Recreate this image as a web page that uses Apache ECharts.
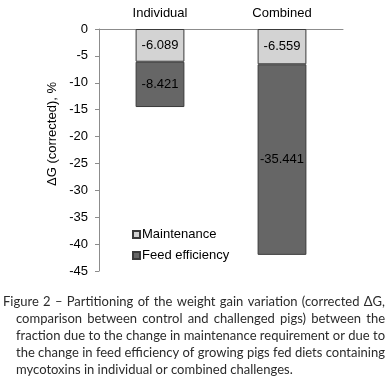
<!DOCTYPE html>
<html><head><meta charset="utf-8">
<script src="https://cdn.jsdelivr.net/npm/echarts@6/dist/echarts.min.js"></script>
<style>html,body{margin:0;padding:0;background:#fff}#c{width:390px;height:385px}</style>
</head><body><div id="c"></div>
<script>
const categories = ['Individual', 'Combined'];
const maintenance = [-6.089, -6.559];
const feedEfficiency = [-8.421, -35.441];
const seriesNames = ['Maintenance', 'Feed efficiency'];
const yAxisTitle = 'ΔG (corrected), %';
const captionLines = [
  'Figure 2 – Partitioning of the weight gain variation (corrected ΔG,',
  'comparison between control and challenged pigs) between the',
  'fraction due to the change in maintenance requirement or due to',
  'the change in feed efficiency of growing pigs fed diets containing',
  'mycotoxins in individual or combined challenges.'
];

const chart = echarts.init(document.getElementById('c'));
const FONT = "'Liberation Sans', Arial, sans-serif";
const CAP_FONT = 'Lato';
const CAP_SIZE = 13;

// justified caption built from words
const cv = document.createElement('canvas').getContext('2d');
cv.font = CAP_SIZE + 'px ' + CAP_FONT;
const captionGraphics = [];
captionLines.forEach((line, i) => {
  const x0 = i === 0 ? 3 : 16, x1 = 385;
  const y = 301.5 + 17 * i;
  const words = line.split(' ');
  const last = i === captionLines.length - 1;
  if (last) {
    captionGraphics.push({type:'text', x:x0, y:y, style:{text:line, font:CAP_SIZE+'px '+CAP_FONT, fill:'#2b2b2b', verticalAlign:'middle', align:'left'}});
    return;
  }
  const widths = words.map(w => cv.measureText(w).width);
  const total = widths.reduce((a,b)=>a+b,0);
  const gap = (x1 - x0 - total) / (words.length - 1);
  let x = x0;
  words.forEach((w, k) => {
    captionGraphics.push({type:'text', x:x, y:y, style:{text:w, font:CAP_SIZE+'px '+CAP_FONT, fill:'#2b2b2b', verticalAlign:'middle', align:'left'}});
    x += widths[k] + gap;
  });
});

const labelCfg = {show:true, position:'inside', color:'#000', fontSize:13, fontFamily:FONT};

chart.setOption({
  animation:false,
  textStyle:{fontFamily:FONT},
  grid:{left:99, top:29, width:244, height:242, containLabel:false},
  legend:{
    orient:'vertical', left:127, top:223, itemWidth:7, itemHeight:7, itemGap:8,
    icon:'rect',
    textStyle:{fontSize:13, color:'#000', fontFamily:FONT, padding:[0,0,0,-3]},
    data:seriesNames
  },
  xAxis:{
    type:'category', position:'top', data:categories,
    axisLine:{show:true, lineStyle:{color:'#8c8c8c', width:1}},
    axisTick:{show:false},
    axisLabel:{fontSize:13, color:'#000', margin:9, fontFamily:FONT}
  },
  yAxis:{
    type:'value', min:-45, max:0, interval:5,
    axisLine:{show:true, lineStyle:{color:'#8c8c8c', width:1}},
    axisTick:{show:true, length:4, lineStyle:{color:'#8c8c8c'}},
    splitLine:{show:false},
    axisLabel:{fontSize:13, color:'#000', margin:11, fontFamily:FONT}
  },
  graphic:[
    {type:'text', x:52, y:134, rotation:Math.PI/2,
     style:{text:yAxisTitle, font:'13px '+FONT, fill:'#000', align:'center', verticalAlign:'middle'}},
    ...captionGraphics
  ],
  series:[
    {name:seriesNames[0], type:'bar', stack:'s', data:maintenance, barWidth:'40%',
     itemStyle:{color:'#d3d3d3', borderColor:'#3a3a3a', borderWidth:1},
     label:labelCfg},
    {name:seriesNames[1], type:'bar', stack:'s', data:feedEfficiency, barWidth:'40%',
     itemStyle:{color:'#666666', borderColor:'#3a3a3a', borderWidth:1},
     label:labelCfg}
  ]
});
</script></body></html>
